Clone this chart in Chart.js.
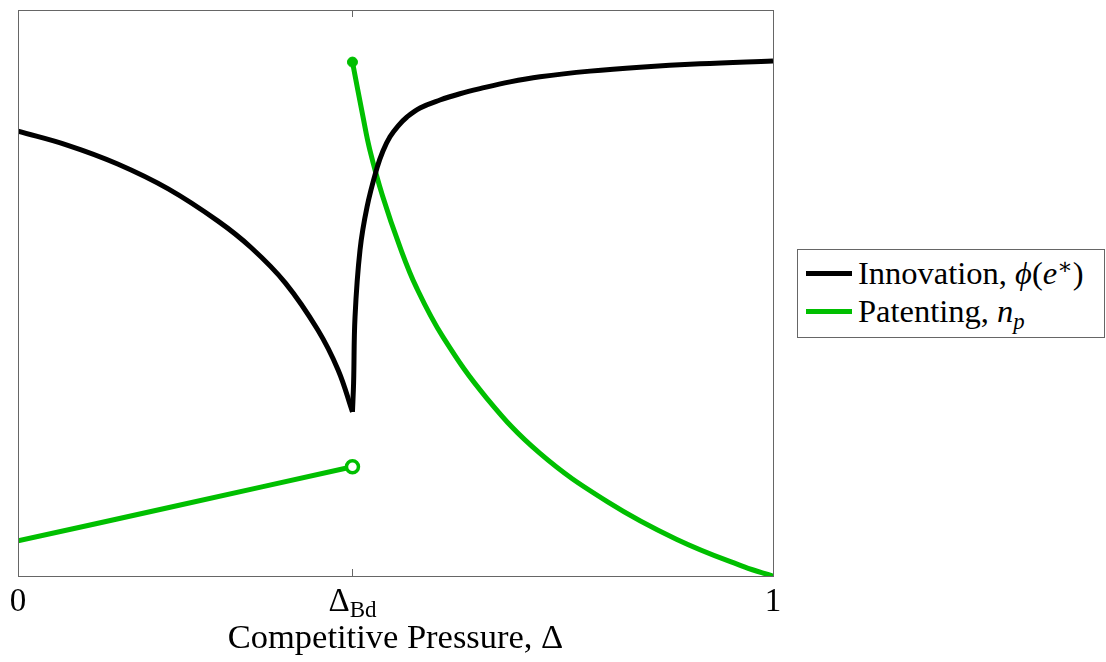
<!DOCTYPE html>
<html>
<head>
<meta charset="utf-8">
<script src="https://cdn.jsdelivr.net/npm/chart.js@4.4.1/dist/chart.umd.min.js"></script>
<style>
  html, body { margin: 0; padding: 0; background: #fff; }
  body { width: 1106px; height: 662px; position: relative; overflow: hidden;
         font-family: "Liberation Serif", "DejaVu Serif", serif; color: #000; }
  #chart { position: absolute; left: 0; top: 0; }
  .txt { position: absolute; line-height: 1; white-space: nowrap; }
  #xTitle { font-size: 34.5px; top: 619px; left: 0; width: 791px; text-align: center; }
  #legend { position: absolute; left: 797px; top: 249px; width: 308px; height: 89px;
            box-sizing: border-box; border: 1px solid #666; background: #fff; }
  .swatch { position: absolute; height: 5px; width: 46px; left: 806px; }
  .leg { font-size: 32.5px; left: 858px; }
  sup, sub { font-size: 0.7em; line-height: 0; position: relative; vertical-align: baseline; }
  sup { top: -0.45em; }
  sub { top: 0.3em; }
</style>
</head>
<body>
<canvas id="chart" width="1106" height="662"></canvas>
<div id="xTitle" class="txt">Competitive Pressure, Δ</div>
<div id="legend"></div>
<div class="swatch" style="top:271px; background:#000;"></div>
<div class="txt leg" style="top:257px;">Innovation, <i>ϕ</i>(<i>e</i><sup>∗</sup>)</div>
<div class="swatch" style="top:309px; background:#00bf00;"></div>
<div class="txt leg" style="top:295px;">Patenting, <i>n</i><sub><i>p</i></sub></div>

<script>
const deltaBd = 0.443;

// x ticks
const tickValues = [0, deltaBd, 1];
const tickLabels = ['0', 'Δ', '1'];
const tickSubs = ['', 'Bd', ''];

// innovation, phi(e*), left of the threshold
const innovLeftX = [0, 0.066, 0.132, 0.199, 0.265, 0.309, 0.354, 0.397, 0.424, 0.443];
const innovLeftY = [0.786, 0.761, 0.728, 0.684, 0.627, 0.580, 0.518, 0.435, 0.364, 0.290];

// innovation, right of the threshold
const innovRightX = [0.443, 0.4445, 0.4464, 0.453, 0.4623, 0.4755, 0.4834, 0.4927, 0.5033, 0.5152,
                     0.5325, 0.5589, 0.5854, 0.6119, 0.6517, 0.6914, 0.7576, 0.8238, 0.9033, 1.0];
const innovRightY = [0.290, 0.341, 0.458, 0.576, 0.652, 0.721, 0.751, 0.776, 0.795, 0.811,
                     0.827, 0.841, 0.852, 0.861, 0.873, 0.882, 0.892, 0.899, 0.905, 0.910];

// patenting, n_p
const patLeftX = [0, 0.2, 0.443];
const patLeftY = [0.062, 0.121, 0.193];
const patRightX = [0.443, 0.457, 0.466, 0.483, 0.506, 0.528, 0.563, 0.621, 0.691, 0.781, 0.872, 0.962, 1.0];
const patRightY = [0.908, 0.811, 0.753, 0.671, 0.581, 0.509, 0.422, 0.314, 0.217, 0.131, 0.065, 0.016, 0.0];

const BLACK = '#000000';
const GREEN = '#00bf00';

const pts = (xs, ys) => xs.map((x, i) => ({ x, y: ys[i] }));

const line = (data, color, extra) => Object.assign({
  data,
  borderColor: color,
  borderWidth: 5,
  pointRadius: 0,
  tension: 0.4,
  fill: false
}, extra || {});

// frame, inside ticks and tick labels (positions from the x scale)
const axisPlugin = {
  id: 'axisFrame',
  afterDraw(chart) {
    const { ctx, chartArea: a, scales: { x } } = chart;
    ctx.save();
    ctx.strokeStyle = '#666';
    ctx.lineWidth = 1;
    ctx.strokeRect(a.left + 0.5, a.top + 0.5, a.right - a.left, a.bottom - a.top);
    ctx.beginPath();
    tickValues.forEach(v => {
      const px = Math.round(x.getPixelForValue(v)) + 0.5;
      ctx.moveTo(px, a.bottom); ctx.lineTo(px, a.bottom - 7);
      ctx.moveTo(px, a.top); ctx.lineTo(px, a.top + 7);
    });
    ctx.stroke();

    ctx.fillStyle = '#000';
    ctx.textBaseline = 'alphabetic';
    const base = a.bottom + 35;
    tickValues.forEach((v, i) => {
      const px = x.getPixelForValue(v);
      ctx.font = '33px "Liberation Serif"';
      const w1 = ctx.measureText(tickLabels[i]).width;
      let w2 = 0;
      if (tickSubs[i]) {
        ctx.font = '23px "Liberation Serif"';
        w2 = ctx.measureText(tickSubs[i]).width;
      }
      const start = px - (w1 + w2) / 2;
      ctx.textAlign = 'left';
      ctx.font = '33px "Liberation Serif"';
      ctx.fillText(tickLabels[i], start, base);
      if (tickSubs[i]) {
        ctx.font = '23px "Liberation Serif"';
        ctx.fillText(tickSubs[i], start + w1, base + 6);
      }
    });
    ctx.restore();
  }
};

new Chart(document.getElementById('chart').getContext('2d'), {
  type: 'line',
  data: {
    datasets: [
      line(pts(innovLeftX, innovLeftY), BLACK),
      line(pts(innovRightX, innovRightY), BLACK),
      line(pts(patLeftX, patLeftY), GREEN, {
        pointRadius: c => c.dataIndex === patLeftX.length - 1 ? 6 : 0,
        pointBackgroundColor: '#fff',
        pointBorderColor: GREEN,
        pointBorderWidth: 3.5
      }),
      line(pts(patRightX, patRightY), GREEN, {
        pointRadius: c => c.dataIndex === 0 ? 5 : 0,
        pointBackgroundColor: GREEN,
        pointBorderColor: GREEN,
        pointBorderWidth: 1
      })
    ]
  },
  options: {
    responsive: false,
    animation: false,
    layout: { padding: { left: 18, top: 10, right: 333, bottom: 86 } },
    plugins: { legend: { display: false }, tooltip: { enabled: false } },
    scales: {
      x: { type: 'linear', min: 0, max: 1, display: false },
      y: { type: 'linear', min: 0, max: 1, display: false }
    }
  },
  plugins: [axisPlugin]
});
</script>
</body>
</html>
